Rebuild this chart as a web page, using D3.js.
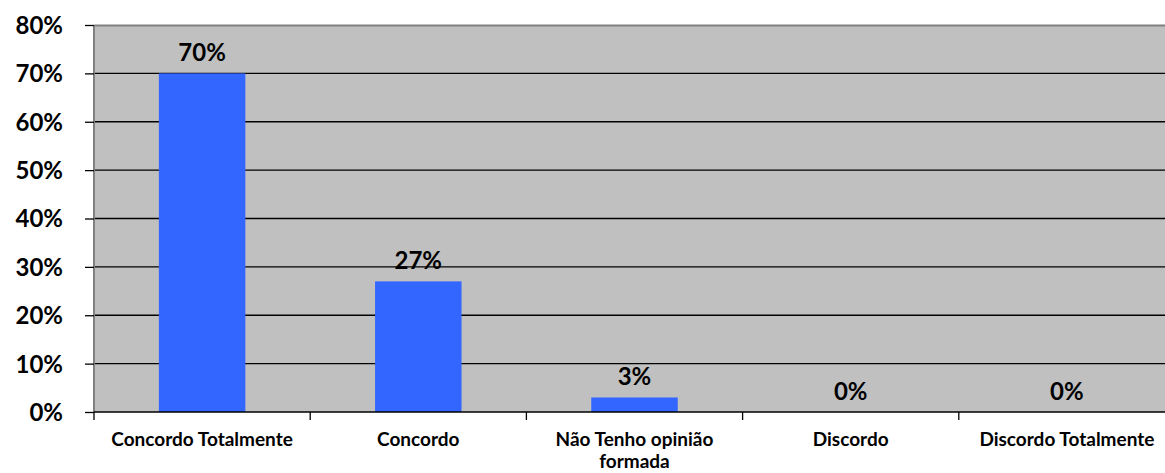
<!DOCTYPE html>
<html><head><meta charset="utf-8">
<script src="https://cdn.jsdelivr.net/npm/d3@7"></script>
<style>body{margin:0;background:#fff;} svg{display:block;}</style>
</head><body>
<svg id="c" width="1165" height="473"></svg>
<script>
const categories = ["Concordo Totalmente", "Concordo", "Não Tenho opinião formada", "Discordo", "Discordo Totalmente"];
const values = [70, 27, 3, 0, 0];
const valueLabels = ["70%", "27%", "3%", "0%", "0%"];
const yTicks = [0, 10, 20, 30, 40, 50, 60, 70, 80];

const svg = d3.select("#c");
const m = {left: 94, top: 25, right: -10, bottom: 61};
const W = 1165 - m.left - m.right, H = 473 - m.top - m.bottom;
const font = "Lato, 'Open Sans', sans-serif";

const x = d3.scaleBand().domain(categories).range([0, W]).padding(0);
const y = d3.scaleLinear().domain([0, 80]).range([H, 0]);

const g = svg.append("g").attr("transform", `translate(${m.left},${m.top})`);
g.append("rect").attr("width", W).attr("height", H).attr("fill", "#c0c0c0");

// gridlines
g.selectAll("line.grid").data(yTicks.filter(d => d > 0 && d < 80)).join("line")
  .attr("x1", 0).attr("x2", W).attr("y1", d => y(d)).attr("y2", d => y(d))
  .attr("stroke", "#000").attr("stroke-width", 1.3);
g.append("line").attr("x1", 0).attr("x2", W).attr("y1", 0.5).attr("y2", 0.5)
  .attr("stroke", "#808080").attr("stroke-width", 2);

// bars
const bw = x.bandwidth() * 0.4;
g.selectAll("rect.bar").data(values).join("rect")
  .attr("x", (d, i) => x(categories[i]) + (x.bandwidth() - bw) / 2)
  .attr("y", d => y(d)).attr("width", bw).attr("height", d => H - y(d))
  .attr("fill", "#3366ff");

// value labels
g.selectAll("text.val").data(values).join("text")
  .attr("x", (d, i) => x(categories[i]) + x.bandwidth() / 2)
  .attr("y", d => y(d) - 12)
  .attr("text-anchor", "middle").attr("font-family", font).attr("font-weight", "bold")
  .attr("font-size", 24).attr("fill", "#000")
  .text((d, i) => valueLabels[i]);

// y axis
const yAxis = d3.axisLeft(y).tickValues(yTicks).tickFormat(d => d + "%").tickSize(9).tickPadding(22);
const ya = g.append("g").call(yAxis);
ya.select(".domain").attr("stroke", "#808080").attr("stroke-width", 2).attr("d", `M0,0V${H}`);
ya.selectAll(".tick line").attr("stroke", "#000").attr("stroke-width", 1.3);
ya.selectAll(".tick text").attr("font-family", font).attr("font-weight", "bold").attr("font-size", 24).attr("fill", "#000").attr("dy", "0.35em");

// x axis
const xa = g.append("g").attr("transform", `translate(0,${H})`);
xa.append("line").attr("x1", 0).attr("x2", W).attr("y1", 0).attr("y2", 0).attr("stroke", "#000").attr("stroke-width", 1.5);
xa.selectAll("line.tk").data(categories).join("line")
  .attr("x1", d => x(d)).attr("x2", d => x(d)).attr("y1", 0).attr("y2", 8)
  .attr("stroke", "#000").attr("stroke-width", 1.3);
const labelLines = [["Concordo Totalmente"], ["Concordo"], ["Não Tenho opinião", "formada"], ["Discordo"], ["Discordo Totalmente"]];
xa.selectAll("text.cat").data(categories).join("text")
  .attr("x", d => x(d) + x.bandwidth() / 2).attr("y", 34)
  .attr("text-anchor", "middle").attr("font-family", font).attr("font-weight", "bold")
  .attr("font-size", 19).attr("fill", "#000")
  .each(function(d, i) {
    const t = d3.select(this);
    labelLines[i].forEach((ln, j) => {
      t.append("tspan").attr("x", x(d) + x.bandwidth() / 2).attr("dy", j === 0 ? 0 : 22).text(ln);
    });
  });
</script>
</body></html>
